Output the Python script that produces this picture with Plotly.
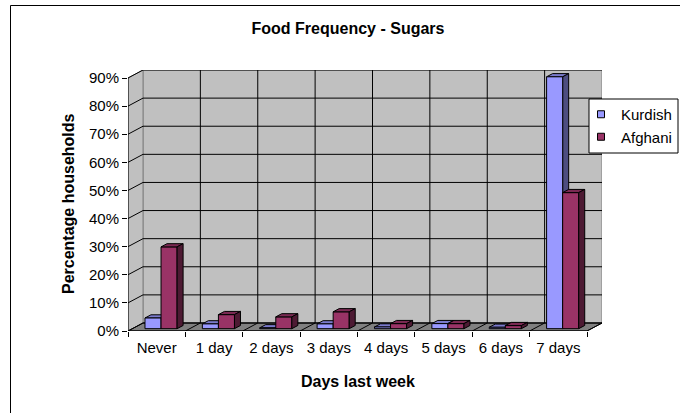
import plotly.graph_objects as go

# ---------------- data ----------------
categories = ["Never", "1 day", "2 days", "3 days", "4 days", "5 days", "6 days", "7 days"]
kurdish = [0.038, 0.017, 0.003, 0.017, 0.006, 0.018, 0.005, 0.896]
afghani = [0.291, 0.050, 0.042, 0.060, 0.018, 0.018, 0.011, 0.484]
y_ticks = [0.0, 0.1, 0.2, 0.3, 0.4, 0.5, 0.6, 0.7, 0.8, 0.9]
series_names = ["Kurdish", "Afghani"]

# ---------------- styling ----------------
FONT = "Liberation Sans, Arial, sans-serif"
front_cols = ["#9999FF", "#993366"]
top_cols = ["#7A7ACC", "#7A2952"]
side_cols = ["#4D4D80", "#4D1A33"]

DX = 0.2614      # wall depth along x (category units)
DY = 0.02846     # wall depth along y (value units)
FRONT = 0.29     # bar front plane (fraction of depth)
DEPTH = 0.40     # bar depth (fraction of depth)
BW = 0.28        # bar width (category units)
sx, sy = FRONT * DX, FRONT * DY
bdx, bdy = DEPTH * DX, DEPTH * DY
n = len(categories)
xmin, xmax = -0.5, n - 0.5
ymax = y_ticks[-1]

def poly(pts):
    return "M " + " L ".join(f"{x},{y}" for x, y in pts) + " Z"

shapes = []
def add_path(pts, fill, line="black", width=1, layer="below"):
    shapes.append(dict(type="path", path=poly(pts), xref="x", yref="y",
                       fillcolor=fill, line=dict(color=line, width=width), layer=layer))
def add_line(x0, y0, x1, y1, color="black", width=1, layer="below"):
    shapes.append(dict(type="line", x0=x0, y0=y0, x1=x1, y1=y1, xref="x", yref="y",
                       line=dict(color=color, width=width), layer=layer))

# walls
add_path([(xmin + DX, DY), (xmax + DX, DY), (xmax + DX, ymax + DY), (xmin + DX, ymax + DY)],
         "#C0C0C0", line="#808080")
add_path([(xmin, 0), (xmin + DX, DY), (xmin + DX, ymax + DY), (xmin, ymax)],
         "#C0C0C0", line="#808080")
add_path([(xmin, 0), (xmax, 0), (xmax + DX, DY), (xmin + DX, DY)], "#808080", line="black")
# gridlines on back wall and side wall
for t in y_ticks:
    add_line(xmin + DX, t + DY, xmax + DX, t + DY)
    add_line(xmin, t, xmin + DX, t + DY)
for i in range(1, n):
    b = xmin + i
    add_line(b + DX, DY, b + DX, ymax + DY)
for i in range(1, n + 1):
    b = xmin + i
    add_line(b, 0, b + DX, DY)
# axis lines
add_line(xmin, 0, xmin, ymax)
add_line(xmin, 0, xmax, 0)

# 3D faces of bars
for s, vals in enumerate([kurdish, afghani]):
    layer = "below" if s == 0 else "above"
    off = -BW + sx if s == 0 else sx
    for i, v in enumerate(vals):
        x0 = i + off
        x1 = x0 + BW
        top = sy + v
        add_path([(x0, top), (x1, top), (x1 + bdx, top + bdy), (x0 + bdx, top + bdy)],
                 top_cols[s], layer=layer)
        add_path([(x1, sy), (x1 + bdx, sy + bdy), (x1 + bdx, top + bdy), (x1, top)],
                 side_cols[s], layer=layer)

# legend box and outer chart border (pixel-positioned via paper coords)
PL, PR, PT, PB = 128, 602, 70, 331
def px(x): return (x - PL) / (PR - PL)
def py(y): return (PB - y) / (PB - PT)
shapes.append(dict(type="rect", xref="paper", yref="paper", x0=px(589), x1=px(678),
                   y0=py(153), y1=py(99), fillcolor="white", line=dict(color="black", width=1),
                   layer="above"))
shapes.append(dict(type="line", xref="paper", yref="paper", x0=px(10.5), x1=px(690),
                   y0=py(5.5), y1=py(5.5), line=dict(color="black", width=1), layer="above"))
shapes.append(dict(type="line", xref="paper", yref="paper", x0=px(10.5), x1=px(10.5),
                   y0=py(5.5), y1=py(430), line=dict(color="black", width=1), layer="above"))

fig = go.Figure()
for s, vals in enumerate([kurdish, afghani]):
    off = -BW + sx if s == 0 else sx
    fig.add_trace(go.Bar(x=categories, y=vals, base=[sy] * n, width=BW, offset=off,
                         marker=dict(color=front_cols[s], line=dict(color="black", width=1)),
                         name=series_names[s], showlegend=False, hoverinfo="skip"))
for s in range(2):
    fig.add_trace(go.Scatter(x=[None], y=[None], mode="markers", name=series_names[s],
                             marker=dict(symbol="square", size=7, color=front_cols[s],
                                         line=dict(color="black", width=1))))

fig.update_layout(
    width=680, height=413,
    margin=dict(l=PL, r=680 - PR, t=PT, b=413 - PB, pad=0, autoexpand=False),
    paper_bgcolor="white", plot_bgcolor="white",
    barmode="overlay",
    font=dict(family=FONT, size=15, color="black"),
    shapes=shapes,
    showlegend=True,
    legend=dict(x=px(581), y=py(98), xanchor="left", yanchor="top",
                bgcolor="rgba(0,0,0,0)", borderwidth=0, font=dict(size=15),
                tracegroupgap=0),
    title=dict(text="<b>Food Frequency - Sugars</b>", x=px(348), xref="paper",
               xanchor="center", y=1 - 28 / 413, yanchor="middle",
               font=dict(size=16, family=FONT)),
    annotations=[
        dict(text="<b>Days last week</b>", xref="paper", yref="paper", x=px(357.5), y=py(381),
             showarrow=False, xanchor="center", yanchor="middle", font=dict(size=16)),
        dict(text="<b>Percentage households</b>", xref="paper", yref="paper", x=px(68),
             y=py(204), showarrow=False, textangle=-90, xanchor="center", yanchor="middle",
             font=dict(size=16)),
    ],
)
fig.update_xaxes(type="category", range=[xmin, xmax + DX], showgrid=False, showline=False,
                 zeroline=False, ticks="outside", tickson="boundaries", ticklen=5,
                 tickcolor="black", tickfont=dict(size=15), automargin=False,
                 ticklabelstandoff=6)
fig.update_yaxes(range=[0, ymax + DY], tickvals=y_ticks, tickformat=".0%", showgrid=False,
                 showline=False, zeroline=False, ticks="outside", ticklen=5,
                 tickcolor="black", tickfont=dict(size=15), automargin=False)

fig.write_html(
    "out.html", config={"displayModeBar": False},
    post_script=("document.documentElement.style.overflow='hidden';"
                 "document.body.style.margin='0';document.body.style.overflow='hidden';"))
